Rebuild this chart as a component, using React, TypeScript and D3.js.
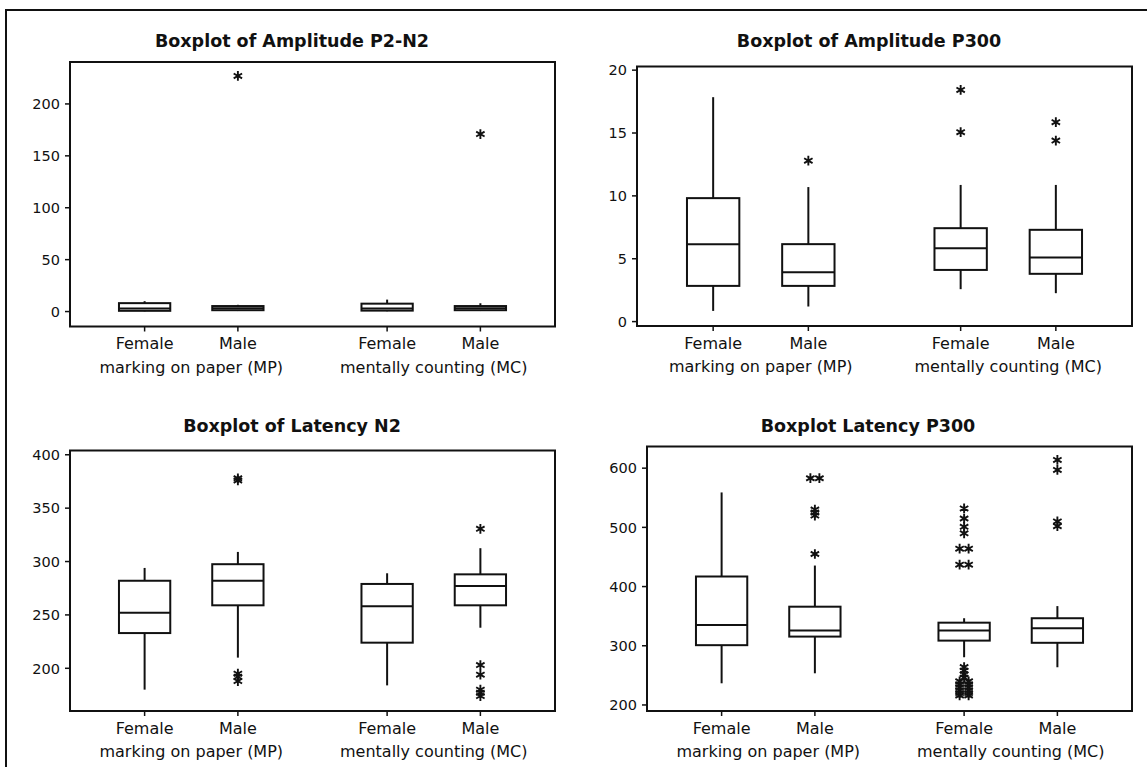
import * as d3 from "d3";

const genders = ["Female", "Male"];
const conditions = ["marking on paper (MP)", "mentally counting (MC)"];

// each row: [lower whisker, Q1, median, Q3, upper whisker]
// order: Female MP, Male MP, Female MC, Male MC
const ampP2N2Stats = [
  [0.2, 0.7, 3.0, 8.1, 10],
  [0.5, 1.3, 3.3, 5.3, 6.5],
  [0.3, 0.9, 3.0, 7.6, 11.5],
  [0.5, 1.3, 3.3, 5.3, 8],
];
const ampP2N2Outliers = [[], [227], [], [171]];
const ampP2N2Ticks = [0, 50, 100, 150, 200];

const ampP300Stats = [
  [0.85, 2.84, 6.16, 9.82, 17.85],
  [1.2, 2.84, 3.93, 6.16, 10.7],
  [2.58, 4.11, 5.84, 7.43, 10.87],
  [2.26, 3.8, 5.09, 7.3, 10.87],
];
const ampP300Outliers = [[], [12.8], [15.07, 18.43], [14.4, 15.86]];
const ampP300Ticks = [0, 5, 10, 15, 20];

const latN2Stats = [
  [180, 233, 252, 282, 294],
  [210, 259, 282, 297.5, 309],
  [184, 224, 258, 279, 289],
  [238, 259, 277, 288, 312.5],
];
const latN2Outliers = [
  [],
  [188, 192, 195, 376, 378],
  [],
  [174, 177, 180, 194, 203, 330.6],
];
const latN2Ticks = [200, 250, 300, 350, 400];

const latP300Stats = [
  [236.6, 301, 335, 417, 559],
  [253.5, 315.5, 325.6, 366, 435.5],
  [280.6, 308.7, 325.6, 339, 346.5],
  [263.7, 305, 329.6, 346.5, 367],
];
const latP300Outliers = [
  [],
  [455, 520, 525, 530, 583, 583],
  [
    216, 216, 220, 220, 225, 225, 230, 230, 235, 235, 240, 240, 246, 252, 258,
    264, 437, 437, 464, 464, 490, 501, 515, 532,
  ],
  [502, 510, 597, 614],
];
const latP300Ticks = [200, 300, 400, 500, 600];

const font = '"DejaVu Sans", Verdana, sans-serif';
const ink = "#111";

const star = d3.symbol(d3.symbolAsterisk, 66)();

type Frame = { x0: number; x1: number; y0: number; y1: number };

function Panel({
  title,
  titleX,
  titleY,
  stats,
  outliers,
  ticks,
  domain,
  frame,
}: {
  title: string;
  titleX: number;
  titleY: number;
  stats: number[][];
  outliers: number[][];
  ticks: number[];
  domain: [number, number];
  frame: Frame;
}) {
  const x = d3.scaleLinear().domain([0.2, 5.4]).range([frame.x0, frame.x1]);
  const y = d3.scaleLinear().domain(domain).range([frame.y1, frame.y0]);
  const pos = (i: number) => 1 + i + (i >= 2 ? 0.6 : 0);
  const bw = x(0.55) - x(0);

  return (
    <g>
      <text
        x={titleX}
        y={titleY}
        textAnchor="middle"
        fontSize={17.5}
        fontWeight={700}
        fill={ink}
      >
        {title}
      </text>
      <rect
        x={frame.x0}
        y={frame.y0}
        width={frame.x1 - frame.x0}
        height={frame.y1 - frame.y0}
        fill="none"
        stroke={ink}
        strokeWidth={2}
      />
      {ticks.map((t) => (
        <g key={t}>
          <line
            x1={frame.x0 - 5}
            x2={frame.x0}
            y1={y(t)}
            y2={y(t)}
            stroke={ink}
            strokeWidth={1.5}
          />
          <text
            x={frame.x0 - 10}
            y={y(t)}
            dy="0.36em"
            textAnchor="end"
            fontSize={14.5}
            fill={ink}
          >
            {t}
          </text>
        </g>
      ))}
      {stats.map((s, i) => {
        const cx = x(pos(i));
        const [lo, q1, med, q3, hi] = s;
        const counts = new Map<number, number>();
        outliers[i].forEach((v) => counts.set(v, (counts.get(v) || 0) + 1));
        const seen = new Map<number, number>();
        return (
          <g key={i}>
            <line
              x1={cx}
              x2={cx}
              y1={frame.y1}
              y2={frame.y1 + 5}
              stroke={ink}
              strokeWidth={1.5}
            />
            <text
              x={cx}
              y={frame.y1 + 22.5}
              textAnchor="middle"
              fontSize={16}
              fill={ink}
            >
              {genders[i % 2]}
            </text>
            <line x1={cx} x2={cx} y1={y(hi)} y2={y(q3)} stroke={ink} strokeWidth={2} />
            <line x1={cx} x2={cx} y1={y(q1)} y2={y(lo)} stroke={ink} strokeWidth={2} />
            <rect
              x={cx - bw / 2}
              y={y(q3)}
              width={bw}
              height={y(q1) - y(q3)}
              fill="white"
              stroke={ink}
              strokeWidth={2}
            />
            <line
              x1={cx - bw / 2}
              x2={cx + bw / 2}
              y1={y(med)}
              y2={y(med)}
              stroke={ink}
              strokeWidth={2}
            />
            {outliers[i].map((v, k) => {
              const n = counts.get(v) || 1;
              const j = seen.get(v) || 0;
              seen.set(v, j + 1);
              const dx = (j - (n - 1) / 2) * 9;
              return (
                <path
                  key={k}
                  d={star}
                  transform={`translate(${cx + dx},${y(v)})`}
                  fill="none"
                  stroke={ink}
                  strokeWidth={1.9}
                />
              );
            })}
          </g>
        );
      })}
      {conditions.map((c, g) => (
        <text
          key={c}
          x={(x(pos(g * 2)) + x(pos(g * 2 + 1))) / 2}
          y={frame.y1 + 46}
          textAnchor="middle"
          fontSize={16}
          fill={ink}
        >
          {c}
        </text>
      ))}
    </g>
  );
}

export default function App() {
  return (
    <svg
      width={1147}
      height={767}
      fontFamily={font}
      style={{ position: "absolute", left: 0, top: 0, background: "white" }}
    >
      <rect width={1147} height={767} fill="white" />
      <line x1={5} x2={1147} y1={10} y2={10} stroke={ink} strokeWidth={2} />
      <line x1={6} x2={6} y1={9} y2={767} stroke={ink} strokeWidth={2} />
      <Panel
        title="Boxplot of Amplitude P2-N2"
        titleX={292}
        titleY={47}
        stats={ampP2N2Stats}
        outliers={ampP2N2Outliers}
        ticks={ampP2N2Ticks}
        domain={[-14.4, 240.4]}
        frame={{ x0: 70, x1: 555, y0: 62, y1: 326.5 }}
      />
      <Panel
        title="Boxplot of Amplitude P300"
        titleX={869}
        titleY={47}
        stats={ampP300Stats}
        outliers={ampP300Outliers}
        ticks={ampP300Ticks}
        domain={[-0.35, 20.29]}
        frame={{ x0: 637, x1: 1132, y0: 66.5, y1: 326 }}
      />
      <Panel
        title="Boxplot of Latency N2"
        titleX={292}
        titleY={432}
        stats={latN2Stats}
        outliers={latN2Outliers}
        ticks={latN2Ticks}
        domain={[160, 404]}
        frame={{ x0: 70, x1: 555, y0: 450.5, y1: 711 }}
      />
      <Panel
        title="Boxplot Latency P300"
        titleX={868}
        titleY={432}
        stats={latP300Stats}
        outliers={latP300Outliers}
        ticks={latP300Ticks}
        domain={[189.8, 636.6]}
        frame={{ x0: 647, x1: 1132, y0: 446.5, y1: 711 }}
      />
    </svg>
  );
}
